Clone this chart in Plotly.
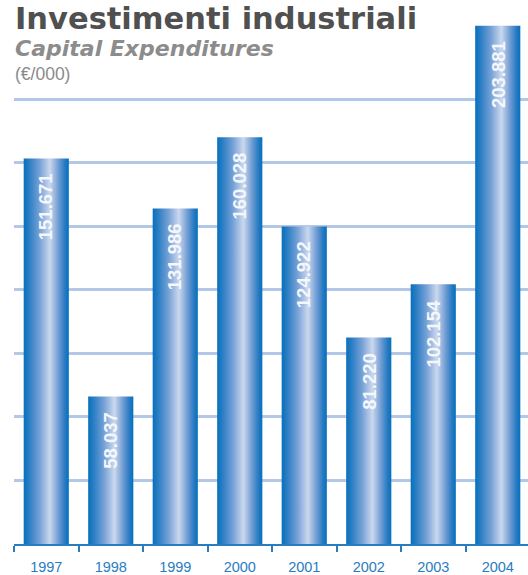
import plotly.graph_objects as go

# Capital expenditures by year (thousands of euro)
years = ["1997", "1998", "1999", "2000", "2001", "2002", "2003", "2004"]
values = [151.671, 58.037, 131.986, 160.028, 124.922, 81.220, 102.154, 203.881]
grid_values = [25, 50, 75, 100, 125, 150, 175]

W, H = 528, 575
M_L, M_B = 14, 28
PX_PER_UNIT = 2.556
CAT_PX = 64.5
HALF_BAR = 0.35

plot_h = H - M_B
plot_w = W - M_L

# cylindrical shading across each bar
bar_scale = [
    [0.0, "#0670bb"],
    [0.12, "#2a7ec4"],
    [0.35, "#76a0d6"],
    [0.58, "#cad8ee"],
    [0.78, "#6c9ad2"],
    [0.92, "#2479c2"],
    [1.0, "#0670bb"],
]

fig = go.Figure()
for i, v in enumerate(values):
    fig.add_trace(go.Scatter(
        x=[i - HALF_BAR, i - HALF_BAR, i + HALF_BAR, i + HALF_BAR, i - HALF_BAR],
        y=[0, v, v, 0, 0],
        mode="lines",
        fill="toself",
        fillgradient=dict(type="horizontal", colorscale=bar_scale),
        line=dict(width=0, color="rgba(0,0,0,0)"),
        hoverinfo="skip",
        showlegend=False,
    ))
    fig.add_annotation(
        x=i, y=v, xref="x", yref="y",
        text=f"{v:.3f}",
        textangle=-90,
        showarrow=False,
        xanchor="center", yanchor="top",
        yshift=-13,
        font=dict(family="Liberation Sans, Arial", size=18.5, color="#f4f7fc", weight="bold"),
    )

def paper_y(py):
    return (plot_h - py) / plot_h

fig.add_annotation(
    xref="paper", yref="paper", x=0, y=paper_y(0), xanchor="left", yanchor="top",
    text="Investimenti industriali", showarrow=False, borderpad=0,
    font=dict(family="DejaVu Sans", size=30.5, color="#505050", weight="bold"),
)
fig.add_annotation(
    xref="paper", yref="paper", x=0, y=paper_y(35.5), xanchor="left", yanchor="top",
    text="Capital Expenditures", showarrow=False, borderpad=0,
    font=dict(family="DejaVu Sans", size=22, color="#8c8c8c", weight="bold", style="italic"),
)
fig.add_annotation(
    xref="paper", yref="paper", x=0, y=paper_y(63), xanchor="left", yanchor="top",
    text="(€/000)", showarrow=False, borderpad=0,
    font=dict(family="Liberation Sans, Arial", size=17.5, color="#8a8a8a"),
)

fig.update_layout(
    width=W, height=H,
    margin=dict(l=M_L, r=0, t=0, b=M_B, pad=0),
    paper_bgcolor="white", plot_bgcolor="white",
    showlegend=False,
    xaxis=dict(
        range=[-0.5, -0.5 + plot_w / CAT_PX],
        tickvals=list(range(len(years))), ticktext=years,
        ticks="", showgrid=False, zeroline=False,
        showline=True, linecolor="#2a7cc0", linewidth=1.5,
        tickfont=dict(family="Liberation Sans, Arial", size=14.5, color="#2a7cc0"),
        ticklabelstandoff=9,
        minor=dict(
            tickvals=[i - 0.5 for i in range(len(years) + 1)],
            ticks="outside", ticklen=6, tickwidth=1.5, tickcolor="#2a7cc0",
            showgrid=False,
        ),
        fixedrange=True,
    ),
    yaxis=dict(
        range=[0, plot_h / PX_PER_UNIT],
        tickvals=grid_values, showticklabels=False, ticks="",
        showgrid=True, gridcolor="#b3c8e7", gridwidth=2.5,
        zeroline=False, showline=False, fixedrange=True,
    ),
)

fig.write_html("out.html")
